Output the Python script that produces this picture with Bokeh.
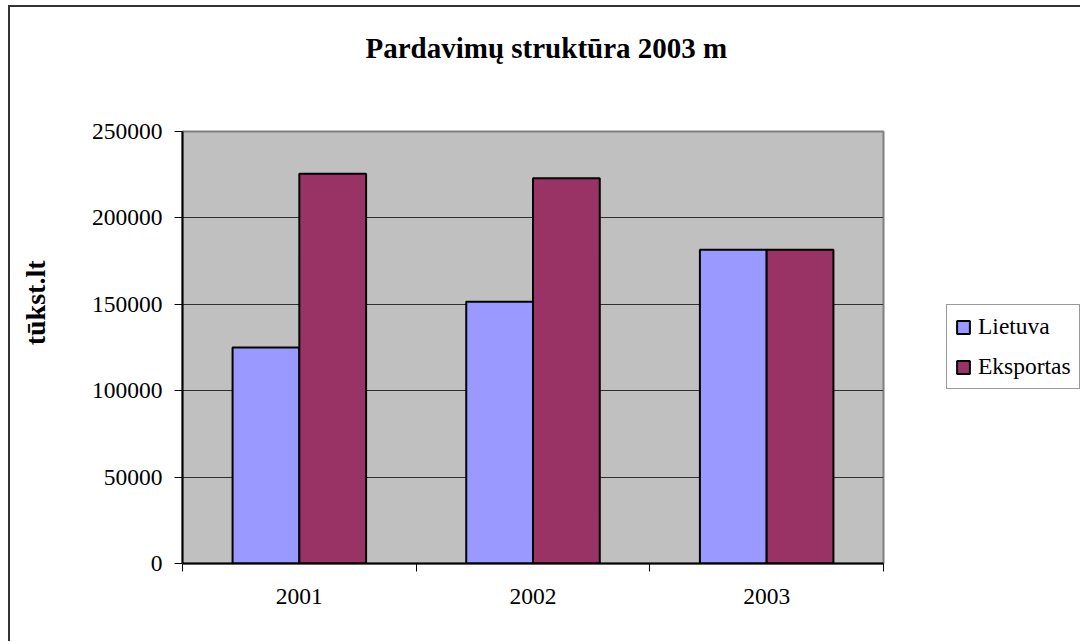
from bokeh.plotting import figure
from bokeh.models import (Range1d, FixedTicker, NumeralTickFormatter, Legend,
                          LegendItem, Title, ColumnDataSource)
from bokeh.embed import file_html
from bokeh.resources import INLINE

# ---- data ----
categories = ["2001", "2002", "2003"]
lietuva = [125000, 151500, 181500]
eksportas = [225500, 223000, 181500]
series_names = ["Lietuva", "Eksportas"]
y_ticks = [0, 50000, 100000, 150000, 200000, 250000]
title_text = "Pardavimų struktūra 2003 m"
y_label_text = "tūkst.lt"

FONT = "Liberation Serif"
COL_L = "#9999FF"
COL_E = "#993366"

n = len(categories)
bar_w = 1 / 3.5  # Excel gap width 150%
centers = [i + 0.5 for i in range(n)]

src = ColumnDataSource(dict(
    xl=[c - bar_w / 2 for c in centers],
    xe=[c + bar_w / 2 for c in centers],
    lietuva=lietuva,
    eksportas=eksportas,
))

p = figure(frame_width=701, frame_height=432, output_backend="svg", toolbar_location=None,
           x_range=Range1d(0, n), y_range=Range1d(0, y_ticks[-1]),
           min_border_left=172, min_border_right=197,
           min_border_top=124, min_border_bottom=78,
           background_fill_color="#C0C0C0", border_fill_color="white",
           title=None)
p.styles = {"margin-left": "8px", "margin-top": "5px",
            "border-left": "2px solid #333333", "border-top": "2px solid #333333"}

p.outline_line_color = "#808080"
p.outline_line_width = 2

# spacer between frame and main title, then the main title
p.add_layout(Title(text=" ", standoff=65, text_font_size="1px"), "above")
main_title = Title(text=title_text, align="left", offset=183, standoff=0,
                   text_font=FONT, text_font_size="29px", text_font_style="bold",
                   text_color="black")
p.add_layout(main_title, "above")

r_l = p.vbar(x="xl", top="lietuva", width=bar_w, source=src,
             fill_color=COL_L, line_color="black", line_width=2)
r_e = p.vbar(x="xe", top="eksportas", width=bar_w, source=src,
             fill_color=COL_E, line_color="black", line_width=2)

# grid
p.xgrid.visible = False
p.ygrid.ticker = FixedTicker(ticks=y_ticks)
p.ygrid.grid_line_color = "#303030"
p.ygrid.grid_line_width = 1

# y axis
ya = p.yaxis[0]
ya.ticker = FixedTicker(ticks=y_ticks)
ya.formatter = NumeralTickFormatter(format="0")
ya.axis_line_color = "black"
ya.axis_line_width = 2
ya.major_tick_line_color = "black"
ya.major_tick_line_width = 1
ya.major_tick_out = 8
ya.major_tick_in = 0
ya.minor_tick_line_color = None
ya.major_label_text_font = FONT
ya.major_label_text_font_size = "23.5px"
ya.major_label_text_color = "black"
ya.major_label_standoff = 12

# x axis: labels at category centres, ticks at category boundaries
xa = p.xaxis[0]
xa.ticker = FixedTicker(ticks=centers, minor_ticks=list(range(n + 1)))
xa.major_label_overrides = {c: lab for c, lab in zip(centers, categories)}
xa.axis_line_color = "black"
xa.axis_line_width = 2
xa.major_tick_line_color = None
xa.major_tick_out = 0
xa.major_tick_in = 0
xa.minor_tick_line_color = "black"
xa.minor_tick_out = 8
xa.minor_tick_in = 0
xa.major_label_text_font = FONT
xa.major_label_text_font_size = "23.5px"
xa.major_label_text_color = "black"
xa.major_label_standoff = 17

# spacer between y axis and its title, then the y axis title
p.add_layout(Title(text=" ", standoff=35, text_font_size="1px"), "left")
ytitle = Title(text=y_label_text, align="right", offset=129, standoff=0,
               text_font=FONT, text_font_size="28px", text_font_style="bold",
               text_color="black")
p.add_layout(ytitle, "left")

legend = Legend(items=[LegendItem(label=series_names[0], renderers=[r_l]),
                       LegendItem(label=series_names[1], renderers=[r_e])],
                location=(63, 174))
legend.border_line_color = "#333333"
legend.border_line_width = 1
legend.background_fill_color = "white"
legend.background_fill_alpha = 1
legend.padding = 8
legend.margin = 0
legend.spacing = 13
legend.glyph_width = 16
legend.glyph_height = 16
legend.label_height = 24
legend.label_standoff = 7
legend.label_text_font = FONT
legend.label_text_font_size = "23.5px"
legend.label_text_color = "black"
p.add_layout(legend, "right")

open("out.html", "w").write(file_html(p, INLINE))
